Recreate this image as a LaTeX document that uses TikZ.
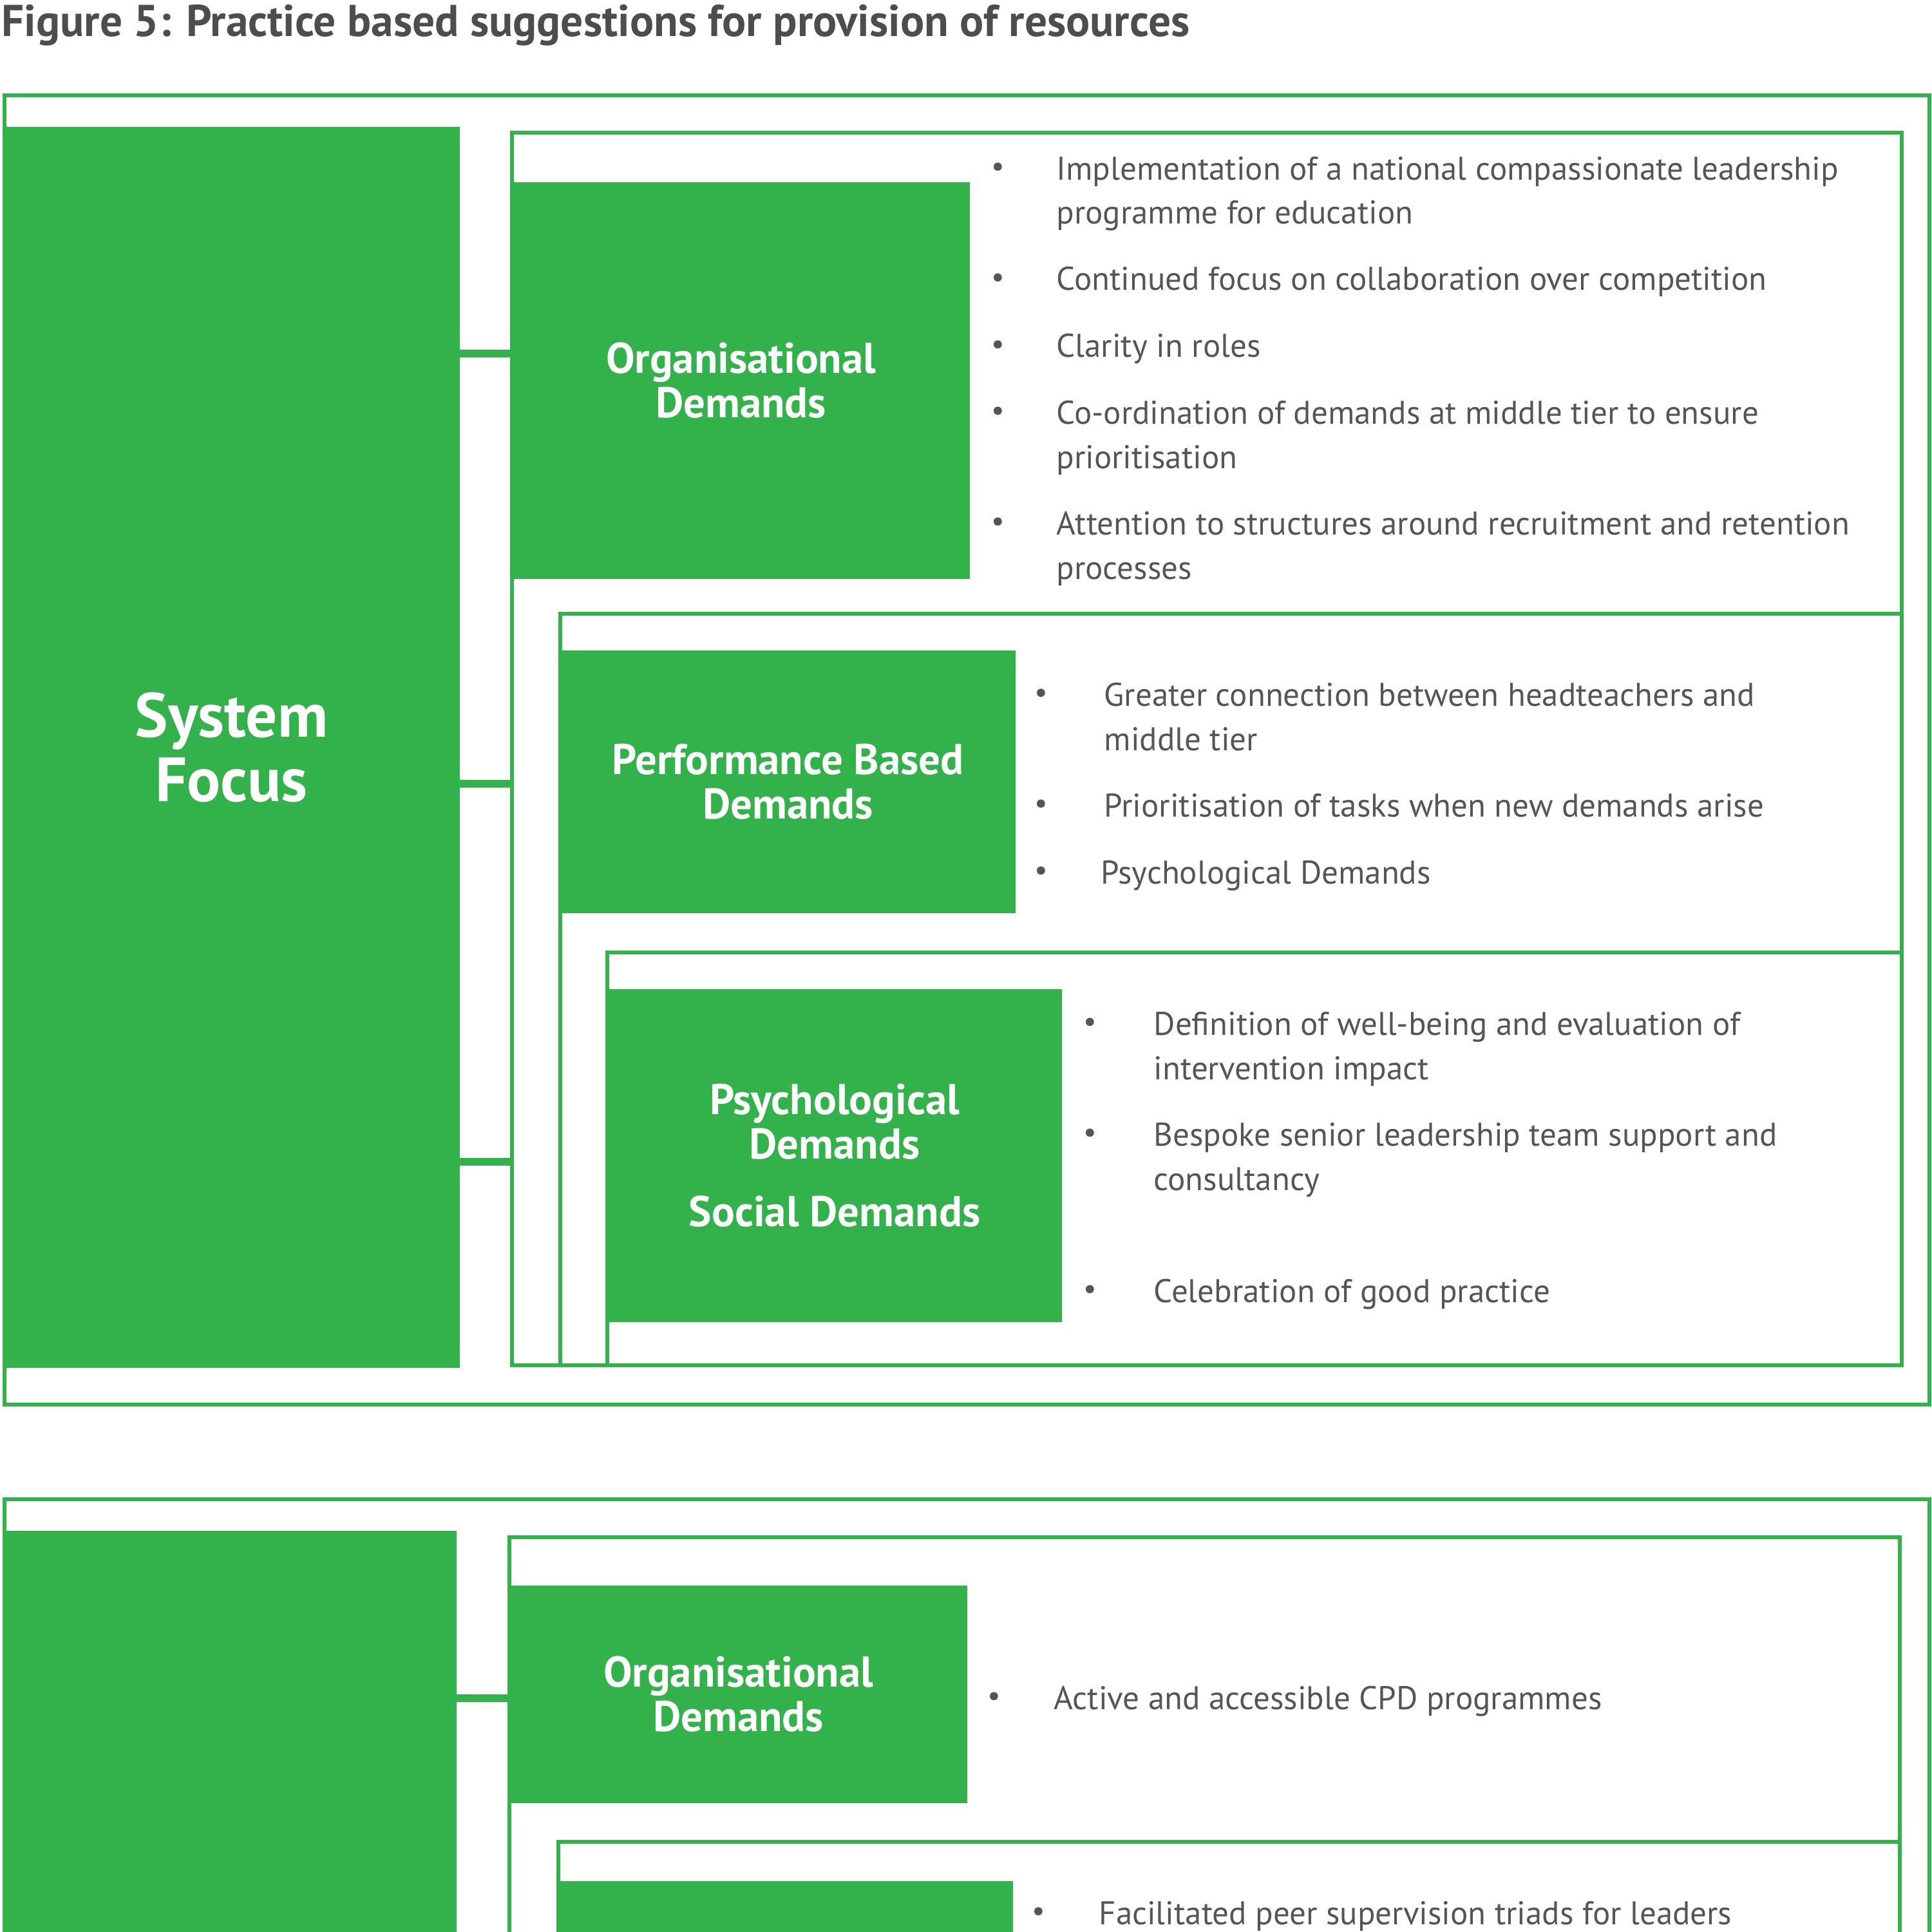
\documentclass[tikz,border=0pt]{standalone}
\usepackage{fontspec}
\setmainfont{PT Sans}
\definecolor{gr}{HTML}{33B14B}
\definecolor{txt}{HTML}{555555}
\definecolor{ttl}{HTML}{4D4D4D}
\newcommand\bodyfs{\fontsize{14.5}{19.6}\selectfont}
\newcommand\headfs{\fontsize{19}{19.6}\selectfont}
\newcommand\bigfs{\fontsize{27.6}{28.5}\selectfont}
\newcommand\titlefs{\fontsize{19.7}{22}\selectfont}
\newcommand\dotfs{\fontsize{13}{13}\selectfont}
\tikzset{
  gbox/.style={fill=gr, draw=none, inner sep=0pt, outer sep=0pt, anchor=north west,
    text=white, font=\headfs\bfseries, align=center},
  frame/.style={draw=gr, line width=1.9pt, inner sep=0pt, outer sep=0pt, anchor=north west},
  conn/.style={draw=gr, line width=3.4pt},
  item/.style={anchor=base west, inner sep=0pt, text=txt, font=\bodyfs, align=left},
  dot/.style={anchor=base, inner sep=0pt, text=txt, font=\dotfs},
}
\begin{document}
\begin{tikzpicture}
\useasboundingbox (0,0) rectangle (30,-30);
\clip (0,0) rectangle (30,-30);
% title
\node[anchor=base west, inner sep=0pt, text=ttl, font=\titlefs\bfseries] (title) at (0.02,-0.57)
  {Figure 5: Practice based suggestions for provision of resources};

% ---------- block 1 ----------
\node[frame, minimum width=29.89cm, minimum height=20.33cm] (outer1) at (0.07,-1.48) {};
\node[frame, minimum width=21.58cm, minimum height=19.14cm] (l1) at (7.95,-2.06) {};
\node[frame, minimum width=20.83cm, minimum height=11.67cm] (l2) at (8.70,-9.53) {};
\node[frame, minimum width=20.10cm, minimum height=6.41cm] (l3) at (9.43,-14.79) {};

\node[gbox, minimum width=7.09cm, minimum height=19.27cm, font=\bigfs\bfseries] (sf) at (0.05,-1.97) {System\\Focus};
\node[gbox, minimum width=7.11cm, minimum height=6.16cm] (org) at (7.95,-2.83) {Organisational\\Demands};
\node[gbox, minimum width=7.07cm, minimum height=4.08cm] (pb) at (8.70,-10.10) {Performance Based\\Demands};
\node[gbox, minimum width=7.06cm, minimum height=5.17cm] (psy) at (9.43,-15.36) {Psychological\\Demands\\[0.36cm]Social Demands};

\coordinate (y1) at (0,-5.49);
\coordinate (y2) at (0,-12.17);
\coordinate (y3) at (0,-18.04);
\draw[conn] (sf.east |- y1) -- (l1.west |- y1);
\draw[conn] (sf.east |- y2) -- (l1.west |- y2);
\draw[conn] (sf.east |- y3) -- (l1.west |- y3);

% organisational bullets (two-line items are placed by their last baseline)
\node[dot] (ob1) at (15.50,-2.79) {\raisebox{1.5pt}{•}};
\node[item] (oi1) at (16.40,-3.48) {Implementation of a national compassionate leadership\\programme for education};
\node[dot] (ob2) at (15.50,-4.51) {\raisebox{1.5pt}{•}};
\node[item] (oi2) at (16.40,-4.51) {Continued focus on collaboration over competition};
\node[dot] (ob3) at (15.50,-5.55) {\raisebox{1.5pt}{•}};
\node[item] (oi3) at (16.40,-5.55) {Clarity in roles};
\node[dot] (ob4) at (15.50,-6.58) {\raisebox{1.5pt}{•}};
\node[item] (oi4) at (16.40,-7.27) {Co-ordination of demands at middle tier to ensure\\prioritisation};
\node[dot] (ob5) at (15.50,-8.30) {\raisebox{1.5pt}{•}};
\node[item] (oi5) at (16.40,-8.99) {Attention to structures around recruitment and retention\\processes};

% performance bullets
\node[dot] (pb1) at (16.17,-10.96) {\raisebox{1.5pt}{•}};
\node[item] (pi1) at (17.14,-11.65) {Greater connection between headteachers and\\middle tier};
\node[dot] (pb2) at (16.17,-12.68) {\raisebox{1.5pt}{•}};
\node[item] (pi2) at (17.14,-12.68) {Prioritisation of tasks when new demands arise};
\node[dot] (pb3) at (16.17,-13.72) {\raisebox{1.5pt}{•}};
\node[item] (pi3) at (17.09,-13.72) {Psychological Demands};

% psychological bullets
\node[dot] (sb1) at (16.93,-16.07) {\raisebox{1.5pt}{•}};
\node[item] (si1) at (17.91,-16.76) {Definition of well-being and evaluation of\\intervention impact};
\node[dot] (sb2) at (16.93,-17.79) {\raisebox{1.5pt}{•}};
\node[item] (si2) at (17.91,-18.48) {Bespoke senior leadership team support and\\consultancy};
\node[dot] (sb3) at (16.93,-20.22) {\raisebox{1.5pt}{•}};
\node[item] (si3) at (17.91,-20.22) {Celebration of good practice};

% ---------- block 2 ----------
\node[frame, minimum width=29.89cm, minimum height=8cm] (outer2) at (0.07,-23.28) {};
\node[frame, minimum width=21.59cm, minimum height=8cm] (l1b) at (7.91,-23.87) {};
\node[frame, minimum width=20.83cm, minimum height=8cm] (l2b) at (8.67,-28.60) {};
\node[gbox, minimum width=7.04cm, minimum height=8cm] (sf2) at (0.05,-23.77) {};
\node[gbox, minimum width=7.11cm, minimum height=3.38cm] (org2) at (7.91,-24.62) {Organisational\\Demands};
\node[gbox, minimum width=7.06cm, minimum height=4cm] (pb2r) at (8.67,-29.21) {};
\coordinate (y4) at (0,-26.37);
\draw[conn] (sf2.east |- y4) -- (l1b.west |- y4);

\node[dot] (ab1) at (15.44,-26.54) {\raisebox{1.5pt}{•}};
\node[item] (ai1) at (16.36,-26.54) {Active and accessible CPD programmes};
\node[dot] (ab2) at (16.13,-29.88) {\raisebox{1.5pt}{•}};
\node[item] (ai2) at (17.06,-29.88) {Facilitated peer supervision triads for leaders};
\end{tikzpicture}
\end{document}
